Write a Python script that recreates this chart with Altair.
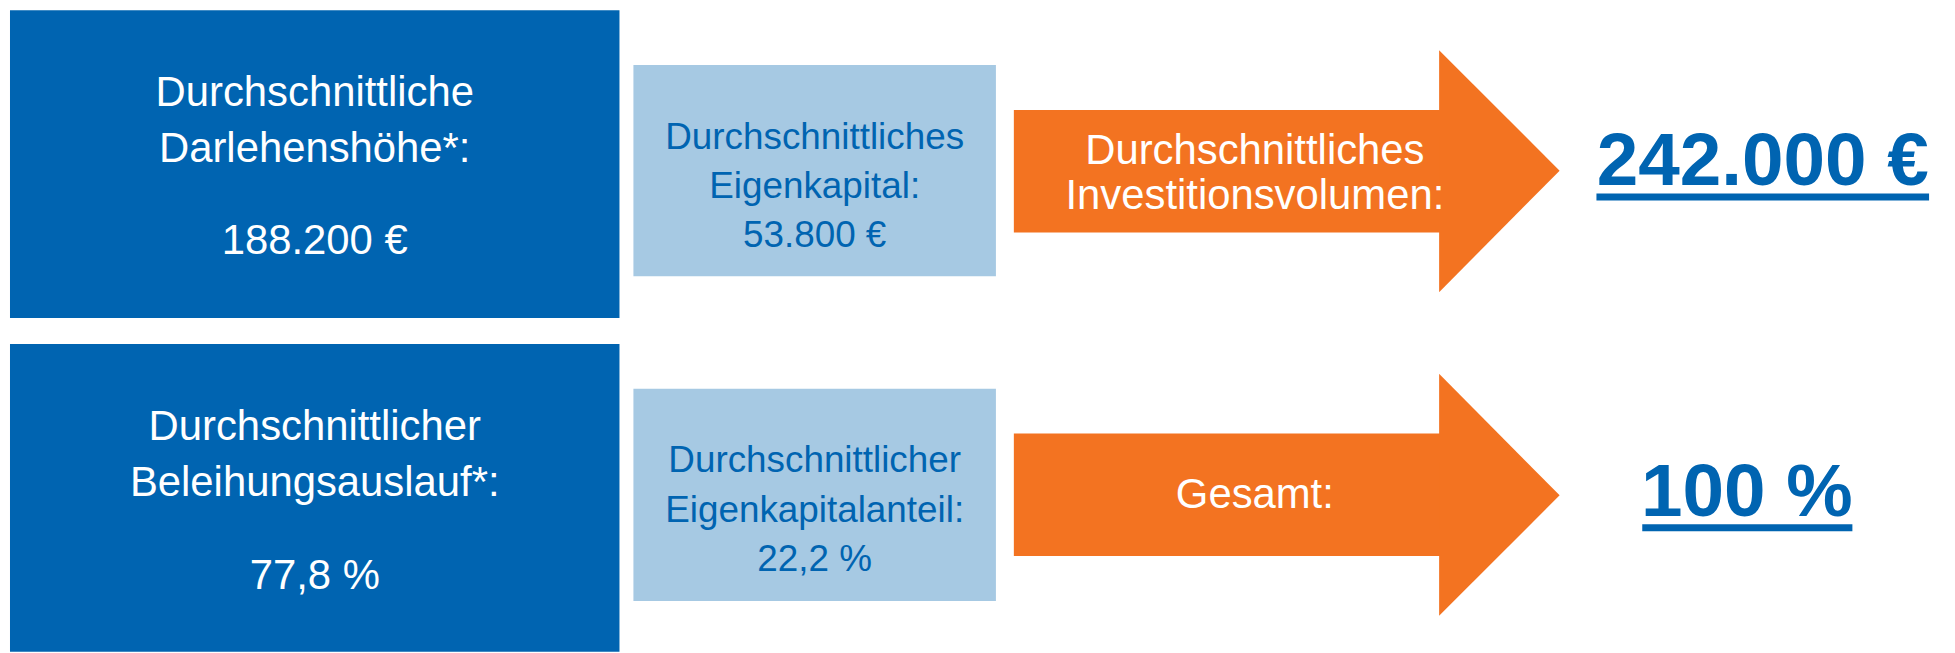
import altair as alt
import pandas as pd

# ---------------- data (text content of the infographic) ----------------
loan_labels = ["Durchschnittliche\nDarlehenshöhe*:", "Durchschnittlicher\nBeleihungsauslauf*:"]
loan_values = ["188.200 €", "77,8 %"]
equity_labels = ["Durchschnittliches\nEigenkapital:", "Durchschnittlicher\nEigenkapitalanteil:"]
equity_values = ["53.800 €", "22,2 %"]
arrow_labels = ["Durchschnittliches\nInvestitionsvolumen:", "Gesamt:"]
total_values = ["242.000 €", "100 %"]

# ---------------- layout (page coordinates, one entry per row) ----------------
rows = [0, 1]
box_x = (10, 622)
box_y0 = [9, 344]
box_y1 = [318, 653]
box_title_y = [92, 427.5]      # first line centre
box_value_y = [241, 577]

light_x = (636, 1000)
light_y0 = [64, 389]
light_y1 = [276, 602]
light_text_y = [137, 462]      # first line centre

shaft_x = (1018, 1446)
shaft_y0 = [109, 434]
shaft_y1 = [232, 557]
head_x = (1445, 1566)
head_top = [49, 374]
head_bottom = [292, 617]
head_tip = [170, 496]
arrow_text_x = 1260
arrow_text_y = [150, 496]      # first line centre

total_x = [1770, 1754]
total_y = [161, 494]
underline_x0 = [1603, 1649]
underline_x1 = [1937, 1860]
underline_y0 = [193, 525]
underline_y1 = [200, 532]

DARK = "#0064B1"
LIGHT = "#A6C9E3"
ORANGE = "#F37321"
FONT = "Liberation Sans"

W, H = 1947, 645
xs = alt.Scale(domain=[8, 8 + W], nice=False, zero=False)
ys = alt.Scale(domain=[8, 8 + H], nice=False, zero=False, reverse=True)


def X(f):
    return alt.X(f, type="quantitative", scale=xs, axis=None)


def Y(f):
    return alt.Y(f, type="quantitative", scale=ys, axis=None)


def rects(x0, x1, y0, y1, color):
    df = pd.DataFrame({"x0": x0, "x1": x1, "y0": y0, "y1": y1})
    return alt.Chart(df).mark_rect(color=color).encode(
        x=X("x0"), x2="x1", y=Y("y0"), y2="y1"
    )


def texts(xv, yv, labels, size, color, lh=None, bold=False):
    df = pd.DataFrame({"x": xv, "y": yv, "t": labels})
    kw = dict(font=FONT, fontSize=size, color=color, align="center",
              baseline="middle", fontWeight="bold" if bold else "normal")
    if lh is not None:
        kw.update(lineBreak="\n", lineHeight=lh)
    return alt.Chart(df).mark_text(**kw).encode(x=X("x"), y=Y("y"), text="t:N")


box_layer = rects([box_x[0]] * 2, [box_x[1]] * 2, box_y0, box_y1, DARK)
light_layer = rects([light_x[0]] * 2, [light_x[1]] * 2, light_y0, light_y1, LIGHT)
shaft_layer = rects([shaft_x[0]] * 2, [shaft_x[1]] * 2, shaft_y0, shaft_y1, ORANGE)
underline_layer = rects(underline_x0, underline_x1, underline_y0, underline_y1, DARK)

head_df = pd.DataFrame({
    "row": rows + rows,
    "x": [head_x[0]] * 2 + [head_x[1]] * 2,
    "y0": head_top + head_tip,
    "y1": head_bottom + head_tip,
})
head_layer = alt.Chart(head_df).mark_area(color=ORANGE, interpolate="linear").encode(
    x=X("x"), y=Y("y0"), y2="y1", detail="row:N"
)

cx_box = (box_x[0] + box_x[1]) / 2
cx_light = (light_x[0] + light_x[1]) / 2

t_box_title = texts([cx_box] * 2, box_title_y, loan_labels, 42, "white", lh=56.5)
t_box_value = texts([cx_box] * 2, box_value_y, loan_values, 42, "white")
t_light = texts([cx_light] * 2, light_text_y,
                [a + "\n" + b for a, b in zip(equity_labels, equity_values)],
                37, DARK, lh=49.5)
t_arrow = texts([arrow_text_x] * 2, arrow_text_y, arrow_labels, 42, "white", lh=45)
t_total = texts(total_x, total_y, total_values, 75, DARK, bold=True)

chart = alt.layer(
    box_layer, light_layer, shaft_layer, head_layer, underline_layer,
    t_box_title, t_box_value, t_light, t_arrow, t_total,
).properties(
    width=W, height=H, padding=0,
    autosize=alt.AutoSizeParams(type="none"),
    background="white",
).configure_view(strokeWidth=0)

chart.save("out.html", embed_options={"renderer": "svg", "actions": False})
